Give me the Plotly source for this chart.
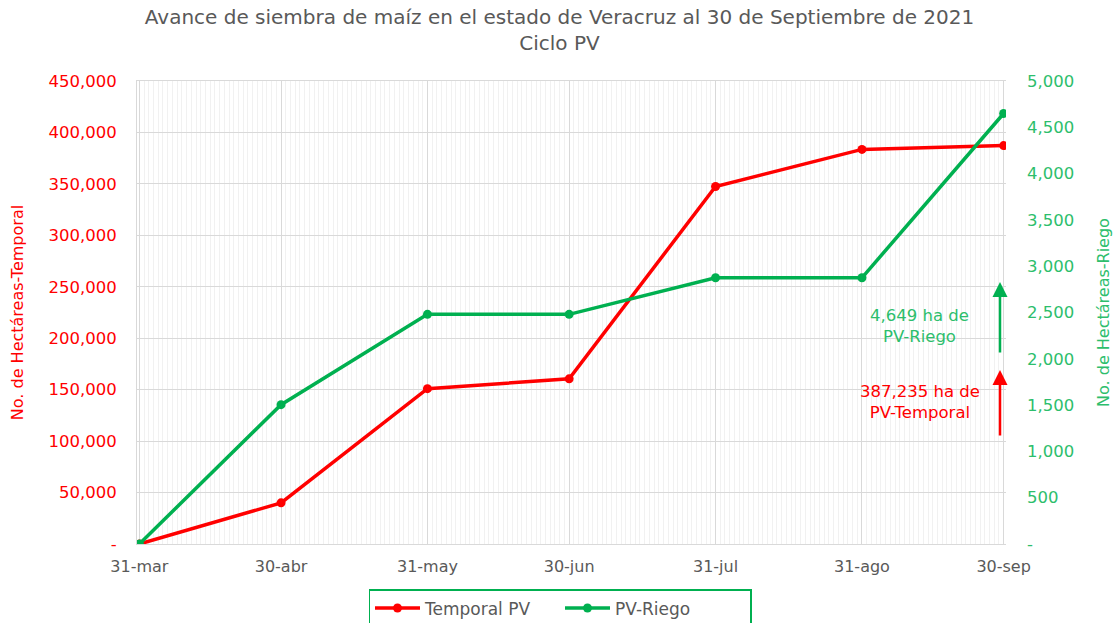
import plotly.graph_objects as go

fechas = ["2021-03-31", "2021-04-30", "2021-05-31", "2021-06-30",
          "2021-07-31", "2021-08-31", "2021-09-30"]
etiquetas = ["31-mar", "30-abr", "31-may", "30-jun", "31-jul", "31-ago", "30-sep"]
temporal = [0, 40000, 151000, 160500, 347500, 383500, 387235]
riego = [0, 1505, 2480, 2480, 2875, 2875, 4649]

y1_ticks = list(range(0, 450001, 50000))
y1_text = ["-"] + [f"{v:,}" for v in y1_ticks[1:]]
y2_ticks = list(range(0, 5001, 500))
y2_text = ["-"] + [f"{v:,}" for v in y2_ticks[1:]]

RED = "#FF0000"
GREEN = "#00B050"
GREEN_TXT = "#2DBE6C"
GRAY = "#595959"
FONT = "DejaVu Sans"

L, R, T, B = 137, 113, 81, 79
PW, PH = 1119 - L - R, 623 - T - B

def px(x):
    return (x - L) / PW

def py(y):
    return (623 - B - y) / PH

fig = go.Figure()
fig.add_trace(go.Scatter(x=fechas, y=temporal, name="Temporal PV", mode="lines+markers",
                         line=dict(color=RED, width=3.5), marker=dict(size=9, color=RED)))
fig.add_trace(go.Scatter(x=fechas, y=riego, name="PV-Riego", mode="lines+markers",
                         line=dict(color=GREEN, width=3.5), marker=dict(size=9, color=GREEN),
                         yaxis="y2"))

fig.update_layout(
    width=1119, height=623,
    margin=dict(l=L, r=R, t=T, b=B, autoexpand=False),
    plot_bgcolor="white", paper_bgcolor="white",
    font=dict(family=FONT, color=GRAY),
    title=dict(text="Avance de siembra de maíz en el estado de Veracruz al 30 de Septiembre de 2021<br>Ciclo PV",
               x=0.5, xanchor="center", xref="container", y=0.962, yanchor="top",
               font=dict(size=20, color=GRAY, family=FONT)),
    xaxis=dict(type="date", range=["2021-03-30 12:00", "2021-09-30 12:00"],
               tickmode="array", tickvals=fechas, ticktext=etiquetas,
               tickfont=dict(size=16, color=GRAY), ticklabelstandoff=8,
               showgrid=True, gridcolor="#D9D9D9", gridwidth=1,
               minor=dict(tickmode="linear", tick0="2021-03-31", dtick=86400000,
                          showgrid=True, gridcolor="#F1F1F1", gridwidth=1),
               showline=True, linecolor="#D9D9D9", mirror=True, zeroline=False,
               ticks="", automargin=False),
    yaxis=dict(range=[0, 450000], tickmode="array", tickvals=y1_ticks, ticktext=y1_text,
               tickfont=dict(size=16.5, color=RED), ticklabelstandoff=16,
               title=dict(text="No. de Hectáreas-Temporal", font=dict(size=16, color=RED), standoff=20),
               showgrid=True, gridcolor="#D9D9D9", zeroline=False,
               showline=True, linecolor="#D9D9D9", ticks="", automargin=False),
    yaxis2=dict(range=[0, 5000], overlaying="y", side="right", tickmode="array",
                tickvals=y2_ticks, ticktext=y2_text,
                tickfont=dict(size=16.5, color=GREEN_TXT), ticklabelstandoff=20,
                title=dict(text="No. de Hectáreas-Riego", font=dict(size=16, color=GREEN_TXT), standoff=24),
                showgrid=False, zeroline=False, ticks="", automargin=False),
    legend=dict(orientation="h", x=px(560), xanchor="center", y=py(589), yanchor="top",
                bordercolor=GREEN, borderwidth=1.5, bgcolor="white",
                font=dict(size=17, color=GRAY), itemwidth=45, entrywidth=130),
    showlegend=True,
)

ax_x = px(1000)
fig.add_annotation(xref="paper", yref="paper", x=ax_x, y=py(282),
                   ax=0, ay=72, axref="pixel", ayref="pixel",
                   showarrow=True, arrowhead=2, arrowsize=1.2, arrowwidth=2.5,
                   arrowcolor=GREEN, text="")
fig.add_annotation(xref="paper", yref="paper", x=ax_x, y=py(370),
                   ax=0, ay=67, axref="pixel", ayref="pixel",
                   showarrow=True, arrowhead=2, arrowsize=1.2, arrowwidth=2.5,
                   arrowcolor=RED, text="")
fig.add_annotation(xref="paper", yref="paper", x=px(919), y=py(326),
                   xanchor="center", yanchor="middle",
                   text="4,649 ha de<br>PV-Riego", showarrow=False,
                   font=dict(size=16.5, color=GREEN_TXT), align="center")
fig.add_annotation(xref="paper", yref="paper", x=px(920), y=py(402),
                   xanchor="center", yanchor="middle",
                   text="387,235 ha de<br>PV-Temporal", showarrow=False,
                   font=dict(size=16.5, color=RED), align="center")

fig.write_html("out.html", config={"displayModeBar": False},
               post_script="document.body.style.margin='0';document.body.style.overflow='hidden';")
